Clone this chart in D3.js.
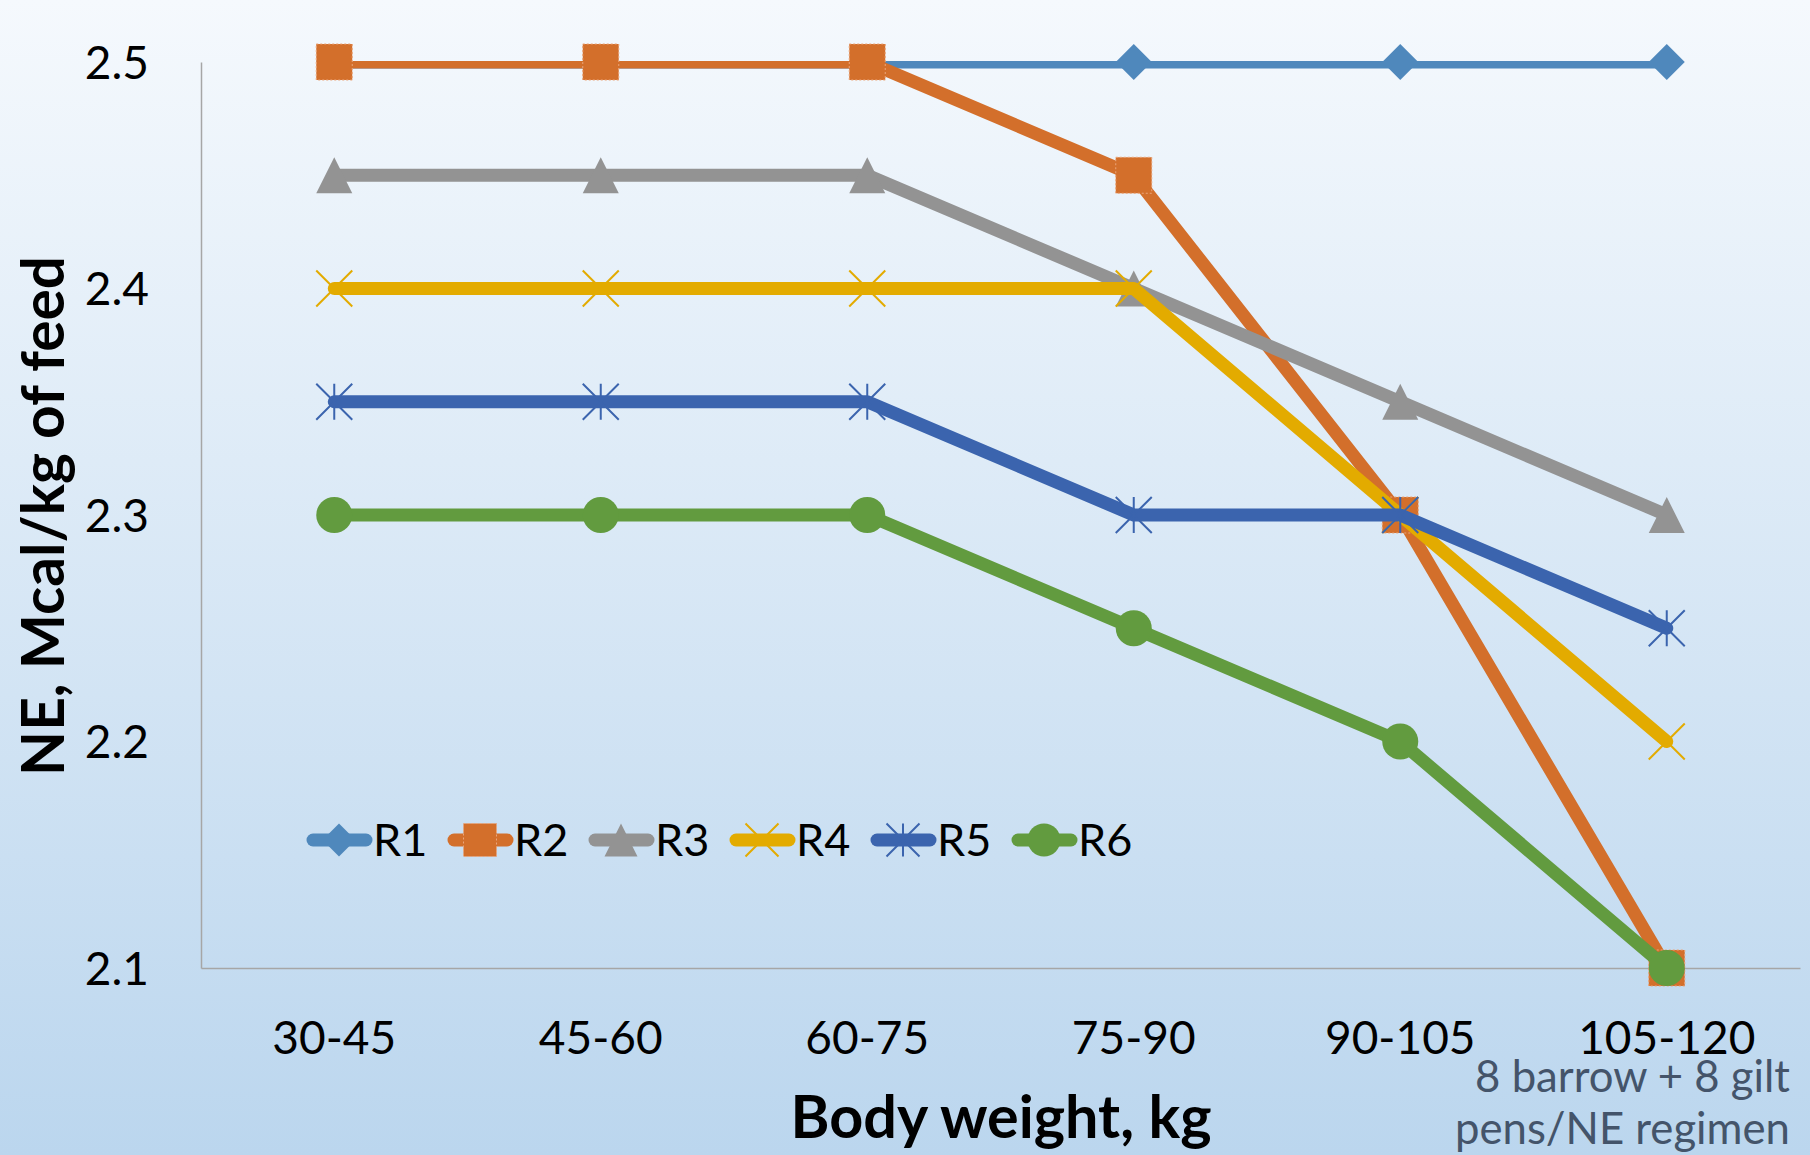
<!DOCTYPE html>
<html>
<head>
<meta charset="utf-8">
<script src="https://cdn.jsdelivr.net/npm/d3@7"></script>
<style>
  html, body { margin: 0; padding: 0; overflow: hidden; }
  svg { display: block; }
  text { font-family: Lato, "Open Sans", sans-serif; }
</style>
</head>
<body>
<svg id="chart" width="1810" height="1155"></svg>
<script>
// ---------- data ----------
const categories = ["30-45", "45-60", "60-75", "75-90", "90-105", "105-120"];
const seriesNames = ["R1", "R2", "R3", "R4", "R5", "R6"];
const r1 = [2.5, 2.5, 2.5, 2.5, 2.5, 2.5];
const r2 = [2.5, 2.5, 2.5, 2.45, 2.3, 2.1];
const r3 = [2.45, 2.45, 2.45, 2.4, 2.35, 2.3];
const r4 = [2.4, 2.4, 2.4, 2.4, 2.3, 2.2];
const r5 = [2.35, 2.35, 2.35, 2.3, 2.3, 2.25];
const r6 = [2.3, 2.3, 2.3, 2.25, 2.2, 2.1];
const yTicks = [2.1, 2.2, 2.3, 2.4, 2.5];
const yTitle = "NE, Mcal/kg of feed";
const xTitle = "Body weight, kg";
const noteLines = ["8 barrow + 8 gilt", "pens/NE regimen"];

const seriesValues = [r1, r2, r3, r4, r5, r6];
const colors = ["#4f88bc", "#d36f2b", "#939393", "#e3ab00", "#3b64ae", "#629b3f"];
const markerTypes = ["diamond", "square", "triangle", "x", "star", "circle"];

// ---------- layout ----------
const W = 1810, H = 1155;
const plot = { left: 201, right: 1800, top: 62, bottom: 968 };

const svg = d3.select("#chart");
const defs = svg.append("defs");
const grad = defs.append("linearGradient").attr("id", "bg").attr("x1", 0).attr("y1", 0).attr("x2", 0).attr("y2", 1);
grad.append("stop").attr("offset", "0%").attr("stop-color", "#f5f9fd");
grad.append("stop").attr("offset", "100%").attr("stop-color", "#bbd6ee");
svg.append("rect").attr("width", W).attr("height", H).attr("fill", "url(#bg)");

defs.append("clipPath").attr("id", "plotClip")
  .append("rect").attr("x", plot.left).attr("y", plot.top - 1)
  .attr("width", plot.right - plot.left).attr("height", plot.bottom - plot.top + 2);

const x = d3.scaleBand().domain(categories).range([plot.left, plot.right]).paddingInner(0).paddingOuter(0);
const xc = c => x(c) + x.bandwidth() / 2;
const y = d3.scaleLinear().domain([2.1, 2.5]).range([plot.bottom, plot.top]);

// ---------- axes ----------
const yAxis = d3.axisLeft(y).tickValues(yTicks).tickSize(0).tickPadding(52).tickFormat(d3.format(".1f"));
const gy = svg.append("g").attr("transform", `translate(${plot.left},0)`).call(yAxis);
gy.select(".domain").attr("stroke", "#a6a6a6").attr("stroke-width", 1.5);
gy.selectAll("text").attr("font-size", 46).attr("fill", "#000").attr("dy", "0.35em");

const xAxis = d3.axisBottom(x).tickSize(0).tickPadding(70);
const gx = svg.append("g").attr("transform", `translate(0,${plot.bottom})`).call(xAxis);
gx.select(".domain").attr("stroke", "#a6a6a6").attr("stroke-width", 1.5);
gx.selectAll("text").attr("font-size", 46).attr("fill", "#000").attr("dy", "0.35em");

// ---------- marker drawing ----------
function drawMarker(g, type, cx, cy, color, s) {
  const h = s / 2;
  if (type === "diamond") {
    g.append("path").attr("d", `M${cx},${cy - h}L${cx + h},${cy}L${cx},${cy + h}L${cx - h},${cy}Z`).attr("fill", color);
  } else if (type === "square") {
    g.append("rect").attr("x", cx - h).attr("y", cy - h).attr("width", s).attr("height", s)
      .attr("fill", color).attr("stroke", "#eaa57a").attr("stroke-width", 1).attr("stroke-dasharray", "2,2");
  } else if (type === "triangle") {
    g.append("path").attr("d", `M${cx},${cy - h}L${cx + h},${cy + h}L${cx - h},${cy + h}Z`).attr("fill", color);
  } else if (type === "x") {
    g.append("path").attr("d", `M${cx - h},${cy - h}L${cx + h},${cy + h}M${cx + h},${cy - h}L${cx - h},${cy + h}`)
      .attr("stroke", color).attr("stroke-width", 2).attr("fill", "none");
  } else if (type === "star") {
    g.append("path").attr("d", `M${cx - h},${cy - h}L${cx + h},${cy + h}M${cx + h},${cy - h}L${cx - h},${cy + h}M${cx},${cy - h}L${cx},${cy + h}`)
      .attr("stroke", color).attr("stroke-width", 2).attr("fill", "none");
  } else if (type === "circle") {
    g.append("circle").attr("cx", cx).attr("cy", cy).attr("r", h).attr("fill", color);
  }
}

// ---------- series ----------
const line = d3.line().x((d, i) => xc(categories[i])).y(d => y(d));
seriesValues.forEach((vals, si) => {
  const g = svg.append("g").attr("class", "series");
  g.append("path").datum(vals).attr("d", line)
    .attr("clip-path", "url(#plotClip)")
    .attr("fill", "none").attr("stroke", colors[si]).attr("stroke-width", 13)
    .attr("stroke-linejoin", "round").attr("stroke-linecap", "round");
  vals.forEach((v, i) => drawMarker(g, markerTypes[si], xc(categories[i]), y(v), colors[si], 36));
});

// ---------- legend ----------
const legX0 = 307, legStep = 141, legY = 840;
seriesNames.forEach((name, i) => {
  const g = svg.append("g").attr("class", "legend-item");
  const lx = legX0 + i * legStep;
  g.append("line").attr("x1", lx + 6).attr("x2", lx + 59).attr("y1", legY).attr("y2", legY)
    .attr("stroke", colors[i]).attr("stroke-width", 13).attr("stroke-linecap", "round");
  drawMarker(g, markerTypes[i], lx + 32, legY, colors[i], 33);
  g.append("text").attr("x", lx + 66).attr("y", legY).attr("dy", "0.36em")
    .attr("font-size", 45).attr("fill", "#000").text(name);
});

// ---------- titles ----------
function fit(sel, target) {
  const len = sel.node().getComputedTextLength();
  const fs = parseFloat(sel.attr("font-size"));
  sel.attr("font-size", fs * target / len);
}
const yt = svg.append("text").attr("transform", "translate(43,516) rotate(-90)")
  .attr("text-anchor", "middle").attr("dy", "0.36em").attr("font-weight", "bold")
  .attr("font-size", 58).attr("fill", "#000").text(yTitle);
fit(yt, 520);

const xt = svg.append("text").attr("x", 1001).attr("y", 1117)
  .attr("text-anchor", "middle").attr("dy", "0.36em").attr("font-weight", "bold")
  .attr("font-size", 56).attr("fill", "#000").text(xTitle);
fit(xt, 421);

const n1 = svg.append("text").attr("x", 1790).attr("y", 1092).attr("text-anchor", "end")
  .attr("font-size", 44).attr("fill", "#44546a").text(noteLines[0]);
fit(n1, 315);
svg.append("text").attr("x", 1790).attr("y", 1144).attr("text-anchor", "end")
  .attr("font-size", n1.attr("font-size")).attr("fill", "#44546a").text(noteLines[1]);
</script>
</body>
</html>
